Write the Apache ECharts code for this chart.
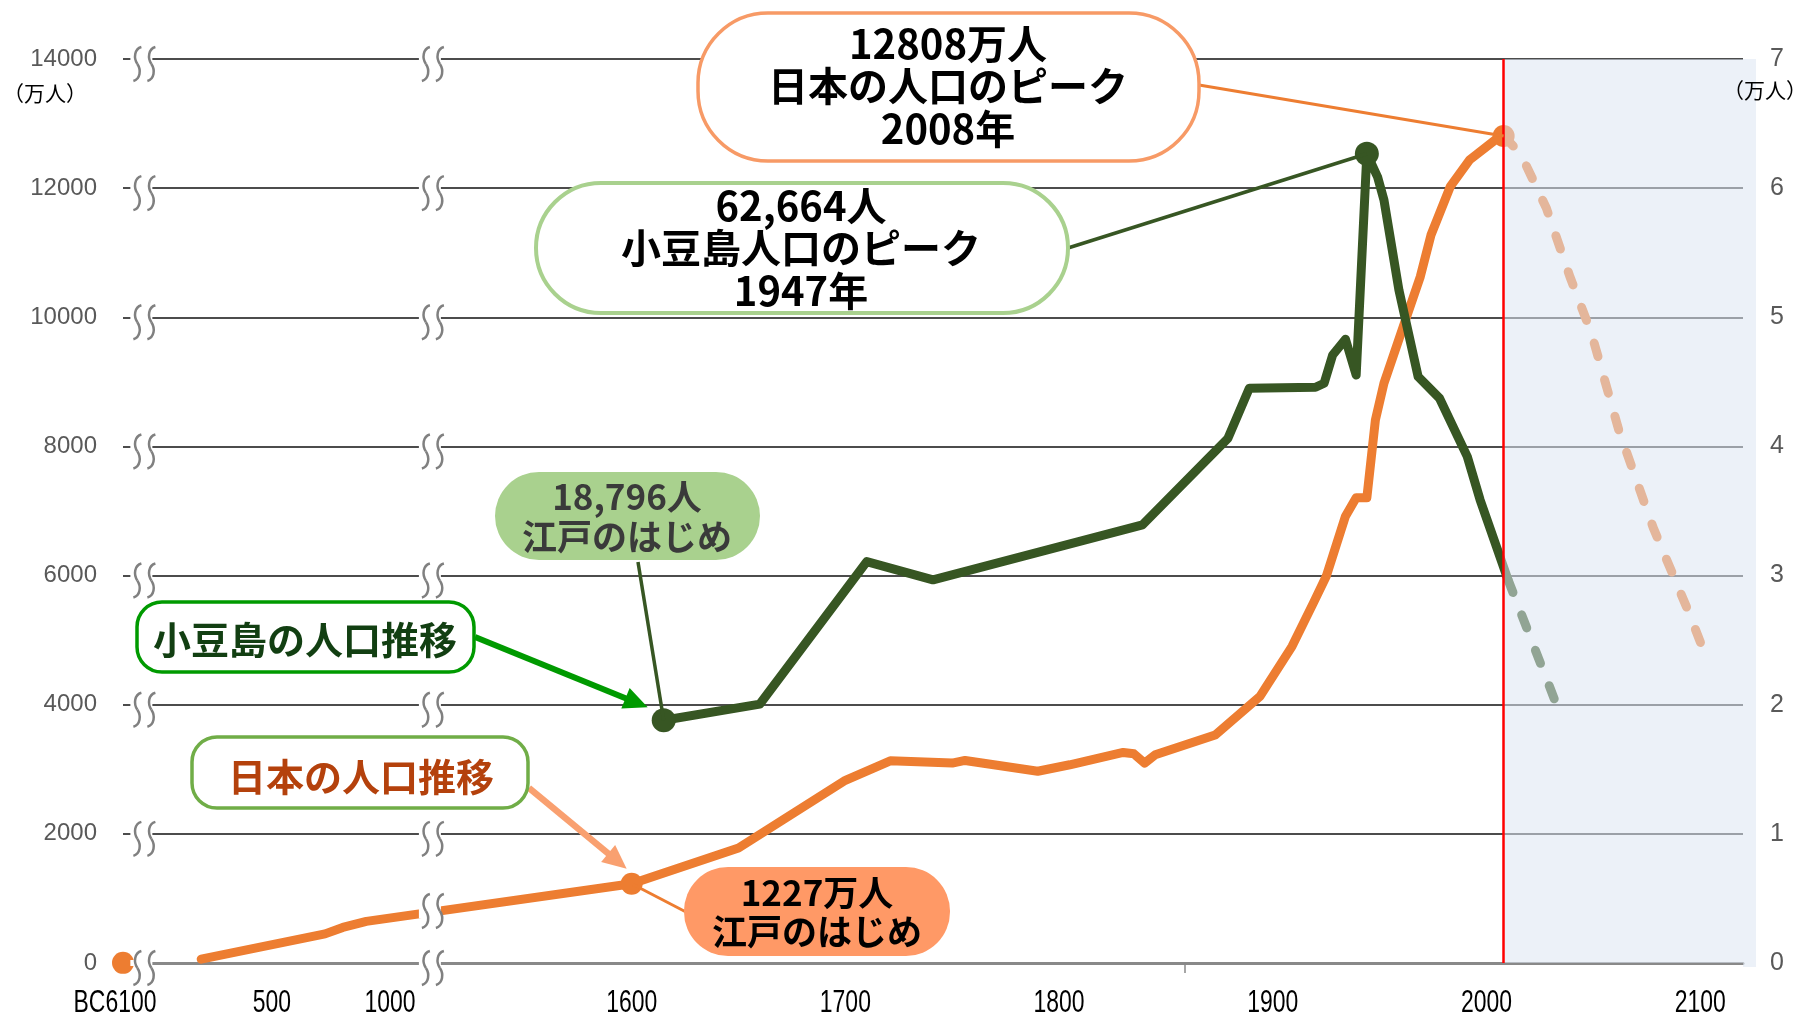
<!DOCTYPE html>
<html>
<head>
<meta charset="utf-8">
<script src="https://cdn.jsdelivr.net/npm/echarts@6/dist/echarts.min.js"></script>
<style>
  html, body { margin: 0; padding: 0; background: #fff; }
  #main { width: 1801px; height: 1019px; }
</style>
</head>
<body>
<div id="main"></div>
<script>
// 日本の人口（万人）
var jomonYear = -6100, jomonValue = 2;
var jpYears = [200, 725, 800, 900, 1600, 1650, 1700, 1721, 1750, 1756, 1790, 1805, 1830, 1835, 1840, 1845, 1873,
  1894, 1909, 1919, 1925, 1934, 1939, 1944, 1948, 1952, 1961, 1969, 1974, 1983, 1992, 2005, 2008];
var jpValues = [59, 451, 551, 644, 1227, 1781, 2830, 3132, 3096, 3137, 2970, 3070, 3261, 3240, 3096, 3225, 3530,
  4129, 4904, 5577, 5989, 6919, 7204, 7204, 8410, 8978, 9854, 10628, 11274, 12022, 12435, 12771, 12808];
// 将来推計（点線）
var jpFutureYears = [2008, 2016, 2028, 2039, 2049, 2062, 2078, 2095, 2104];
var jpFutureValues = [12808, 12530, 11690, 10630, 9760, 8240, 6740, 5400, 4630];

// 小豆島の人口（万人）
var sdYears = [1615, 1660, 1710, 1741, 1839, 1879, 1889, 1920, 1924, 1928, 1934, 1939, 1944, 1949, 1952, 1959,
  1968, 1978, 1991, 1997, 2010];
var sdValues = [1.8796, 2.005, 3.108, 2.967, 3.392, 4.063, 4.450, 4.458, 4.489, 4.708, 4.830, 4.553, 6.2664, 6.088,
  5.908, 5.211, 4.540, 4.373, 3.921, 3.586, 2.97];
var sdFutureYears = [2010, 2033];
var sdFutureValues = [2.97, 1.99];

// 横軸の目盛り
var tickYears = [-6100, 500, 1000, 1600, 1700, 1800, 1900, 2000, 2100];
var tickLabels = ['BC6100', '500', '1000', '1600', '1700', '1800', '1900', '2000', '2100'];
var peakYear = 2008;

// 省略（≀≀）の位置  軸の値で
var breakPos = [1372, 1507];

// 横軸は途中を省略しているので 年 -> 軸の値 に変換する
function axisPos(year) {
  if (year < 0) return 1362;          // 縄文は左端
  if (year <= 1000) return 1431.7 + (year - 500) * 0.1104;  // 古代は圧縮
  return year;
}

var numFont = '"Liberation Sans", Arial, sans-serif';
var jaFont = '"Noto Sans CJK JP", sans-serif';
var futureColor = 'rgba(220,230,242,0.55)';

var jpLine = jpYears.map(function (y, i) { return [axisPos(y), jpValues[i]]; });
var jpFuture = jpFutureYears.map(function (y, i) { return [y, jpFutureValues[i]]; });
var sdLine = sdYears.map(function (y, i) { return [y, sdValues[i]]; });
var sdFuture = sdFutureYears.map(function (y, i) { return [y, sdFutureValues[i]]; });

var jpDots = [
  [axisPos(jomonYear), jomonValue],
  [1600, jpValues[jpYears.indexOf(1600)]],
  [peakYear, jpValues[jpYears.indexOf(peakYear)]]
];
var sdPeakIdx = sdValues.indexOf(Math.max.apply(null, sdValues));
var sdDots = [[sdYears[0], sdValues[0]], [sdYears[sdPeakIdx], sdValues[sdPeakIdx]]];

var chart = echarts.init(document.getElementById('main'));

var option = {
  animation: false,
  grid: { left: 123, right: 58, top: 59, bottom: 56 },
  xAxis: {
    type: 'value',
    min: 1362,
    max: 2120,
    splitLine: { show: false },
    axisLine: { lineStyle: { color: '#898989', width: 3 } },
    axisTick: { show: true, customValues: [1859], length: 10, lineStyle: { color: '#898989', width: 1.5 } },
    // 目盛りの文字は細い字なので graphic で描く (下)
    axisLabel: { show: false }
  },
  yAxis: [
    {
      type: 'value',
      min: 0,
      max: 14000,
      interval: 2000,
      axisLine: { show: false },
      axisTick: { show: false },
      splitLine: { lineStyle: { color: '#111', width: 1.5 } },
      axisLabel: {
        margin: 26, color: '#595959', fontFamily: numFont, fontSize: 24,
        formatter: function (v) { return String(v); }
      }
    },
    {
      type: 'value',
      min: 0,
      max: 7,
      interval: 1,
      axisLine: { show: false },
      axisTick: { show: false },
      splitLine: { show: false },
      axisLabel: { margin: 27, color: '#595959', fontFamily: numFont, fontSize: 25 }
    }
  ],
  series: [
    {
      name: '日本の人口',
      type: 'line',
      data: jpLine,
      showSymbol: false,
      z: 2,
      lineStyle: { color: '#ED7D31', width: 9, join: 'round', cap: 'round' }
    },
    {
      name: '日本の人口（推計）',
      type: 'line',
      data: jpFuture,
      showSymbol: false,
      z: 2,
      lineStyle: { color: '#ED7D31', width: 9, type: [14, 24], cap: 'round' }
    },
    {
      name: '小豆島の人口',
      type: 'line',
      yAxisIndex: 1,
      data: sdLine,
      showSymbol: false,
      z: 3,
      lineStyle: { color: '#375623', width: 9, join: 'round', cap: 'round' }
    },
    {
      name: '小豆島の人口（推計）',
      type: 'line',
      yAxisIndex: 1,
      data: sdFuture,
      showSymbol: false,
      z: 3,
      lineStyle: { color: '#375623', width: 9, type: [14, 24], cap: 'round' }
    },
    {
      type: 'scatter',
      data: jpDots,
      symbolSize: 22,
      z: 4,
      itemStyle: { color: '#ED7D31', opacity: 1 }
    },
    {
      type: 'scatter',
      yAxisIndex: 1,
      data: sdDots,
      symbolSize: 24,
      z: 4,
      itemStyle: { color: '#375623', opacity: 1 }
    },
    // 将来の部分 (薄い青) 線の上にかぶせる
    {
      type: 'line',
      data: [],
      z: 6,
      markArea: {
        z: 10,
        silent: true,
        itemStyle: { color: futureColor },
        data: [[{ xAxis: peakYear }, { xAxis: 2120 }]]
      }
    },
    // 赤い縦線
    {
      type: 'line',
      data: [],
      z: 7,
      markLine: {
        z: 12,
        silent: true,
        symbol: 'none',
        label: { show: false },
        lineStyle: { color: '#FF0000', width: 2.5, type: 'solid' },
        data: [{ xAxis: peakYear }]
      }
    }
  ]
};

chart.setOption(option);

// ---- 注釈 (吹き出し・矢印・省略記号・目盛りの文字) ----
function px(x, y, right) {
  return chart.convertToPixel(right ? { xAxisIndex: 0, yAxisIndex: 1 } : { xAxisIndex: 0, yAxisIndex: 0 }, [x, y]);
}

function box(x, y, w, h, r, fill, stroke, lw) {
  return {
    type: 'rect', z: 50,
    shape: { x: x, y: y, width: w, height: h, r: r },
    style: { fill: fill, stroke: stroke || null, lineWidth: lw || 0 }
  };
}

function label(cx, cy, text, size, color, lh) {
  return {
    type: 'text', z: 51, x: cx, y: cy,
    style: {
      text: text, fill: color, fontFamily: jaFont, fontWeight: 'bold', fontSize: size,
      lineHeight: lh || size, align: 'center', verticalAlign: 'middle'
    }
  };
}

function seg(p1, p2, color, w) {
  return {
    type: 'line', z: 49,
    shape: { x1: p1[0], y1: p1[1], x2: p2[0], y2: p2[1] },
    style: { stroke: color, lineWidth: w }
  };
}

function arrow(p1, p2, color, w, hl, hw) {
  var a = Math.atan2(p2[1] - p1[1], p2[0] - p1[0]);
  var c = Math.cos(a), s = Math.sin(a);
  var bx = p2[0] - c * hl, by = p2[1] - s * hl;
  return [
    seg(p1, [bx + c * 2, by + s * 2], color, w),
    {
      type: 'polygon', z: 49,
      shape: { points: [[p2[0], p2[1]], [bx - s * hw, by + c * hw], [bx + s * hw, by - c * hw]] },
      style: { fill: color }
    }
  ];
}

// 波線 1本 (S字)
function wave(cx, cy) {
  var st = { stroke: '#808080', lineWidth: 2.5, fill: null };
  return [
    {
      type: 'bezierCurve', z: 41,
      shape: { x1: cx + 4, y1: cy - 17, cpx1: cx - 3, cpy1: cy - 15, cpx2: cx - 4, cpy2: cy - 6, x2: cx, y2: cy },
      style: st
    },
    {
      type: 'bezierCurve', z: 41,
      shape: { x1: cx, y1: cy, cpx1: cx + 4, cpy1: cy + 6, cpx2: cx + 3, cpy2: cy + 15, x2: cx - 4, y2: cy + 17 },
      style: st
    }
  ];
}

function breakMark(cx, cy, gapH, dy) {
  return [
    { type: 'rect', z: 40, shape: { x: cx - 14, y: cy - gapH / 2, width: 22, height: gapH }, style: { fill: '#fff' } }
  ].concat(wave(cx - 7, cy + dy), wave(cx + 7, cy + dy));
}

var els = [];

// 省略記号  目盛り線ごと
for (var v = 0; v <= 14000; v += 2000) {
  breakPos.forEach(function (b) {
    var p = px(b, v);
    els = els.concat(breakMark(p[0], p[1], v === 0 ? 6 : 4, 5));
  });
}
// 日本の人口の線の上の省略記号 (900年と1600年の間)
(function () {
  var i = jpYears.indexOf(1600);
  var a = px(jpLine[i - 1][0], jpLine[i - 1][1]);
  var b = px(jpLine[i][0], jpLine[i][1]);
  var x = px(breakPos[1], 0)[0];
  var y = a[1] + (b[1] - a[1]) * (x - a[0]) / (b[0] - a[0]);
  els = els.concat(breakMark(x, y, 13, -1));
})();

// 薄い青の部分は図の右端より少しはみ出している
(function () {
  var tr = px(2120, 14000), br = px(2120, 0);
  els.push({ type: 'rect', z: 45, shape: { x: tr[0], y: tr[1], width: 13, height: br[1] - tr[1] + 4 }, style: { fill: futureColor } });
})();

// 横軸の文字 (細字にするため横に縮める)
var axisY = px(1600, 0)[1];
tickYears.forEach(function (y, i) {
  var p = px(axisPos(y), 0);
  els.push({
    type: 'text', z: 51, x: p[0] + (i === 0 ? -8 : 0), y: axisY + 40, scaleX: 0.74,
    style: { text: tickLabels[i], fill: '#000', fontFamily: numFont, fontSize: 31, align: 'center', verticalAlign: 'middle' }
  });
});

var jpPeak = px(jpDots[2][0], jpDots[2][1]);
var jpEdo = px(jpDots[1][0], jpDots[1][1]);
var sdPeak = px(sdDots[1][0], sdDots[1][1], true);
var sdEdo = px(sdDots[0][0], sdDots[0][1], true);

// 日本の人口のピーク
els.push(seg([1199, 85], jpPeak, '#ED7D31', 3));
els.push(box(698, 13, 501, 148, 70, '#fff', '#F79A66', 3.5));
els.push(label(948, 86, '12808万人\n日本の人口のピーク\n2008年', 40, '#000', 42.5));

// 小豆島人口のピーク
els.push(seg([1068, 248], sdPeak, '#375623', 3.5));
els.push(box(536, 183, 532, 130, 65, '#fff', '#A9D18E', 4));
els.push(label(801, 248, '62,664人\n小豆島人口のピーク\n1947年', 40, '#000', 42.5));

// 江戸のはじめ (小豆島)
els.push(seg([638, 562], sdEdo, '#375623', 3.5));
els.push(box(495, 472, 265, 88, 44, '#A9D18E'));
els.push(label(627, 517, '18,796人\n江戸のはじめ', 35, '#3A3A3A', 40));

// 小豆島の人口推移
els = els.concat(arrow([475, 637], [sdEdo[0] - 16, sdEdo[1] - 13], '#009A00', 6, 24, 11));
els.push(box(137, 602, 337, 70, 25, '#fff', '#009A00', 3.5));
els.push(label(305, 640, '小豆島の人口推移', 38, '#123F12'));

// 日本の人口推移
els = els.concat(arrow([529, 788], [jpEdo[0] - 5, jpEdo[1] - 15], '#F9A070', 6.5, 24, 11));
els.push(box(192, 737, 336, 71, 25, '#fff', '#70AD47', 3.5));
els.push(label(361, 777, '日本の人口推移', 38, '#B4410C'));

// 江戸のはじめ (日本)
els.push(seg(jpEdo, [686, 912], '#ED7D31', 3));
els.push(box(684, 867, 266, 89, 44, '#FF9966'));
els.push(label(817, 912, '1227万人\n江戸のはじめ', 35, '#000', 38.7));

// 単位
els.push({ type: 'text', z: 51, x: 45, y: 93, style: { text: '（万人）', fill: '#000', fontFamily: jaFont, fontSize: 21, align: 'center', verticalAlign: 'middle' } });
els.push({ type: 'text', z: 51, x: 1765, y: 90, style: { text: '（万人）', fill: '#000', fontFamily: jaFont, fontSize: 21, align: 'center', verticalAlign: 'middle' } });

chart.setOption({ graphic: { elements: els } });
</script>
</body>
</html>
